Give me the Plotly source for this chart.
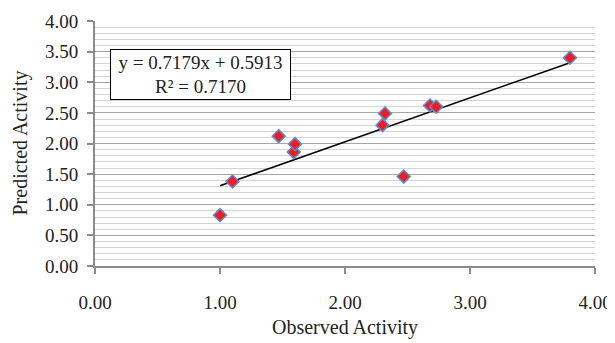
import plotly.graph_objects as go

observed = [1.00, 1.10, 1.47, 1.59, 1.60, 2.30, 2.32, 2.47, 2.68, 2.73, 3.80]
predicted = [0.83, 1.38, 2.12, 1.86, 1.99, 2.30, 2.49, 1.46, 2.62, 2.60, 3.40]
slope = 0.7179
intercept = 0.5913
r_squared = 0.7170
tick_vals = [0, 0.5, 1, 1.5, 2, 2.5, 3, 3.5, 4]
x_ticks = [0, 1, 2, 3, 4]

x_lo, x_hi = min(observed), max(observed)
trend_x = [x_lo, x_hi]
trend_y = [slope * v + intercept for v in trend_x]

FONT = "Liberation Serif"
TXT = "#222"
PAGE_OFFSET = 8  # default body margin of the html page

fig = go.Figure()
fig.add_trace(go.Scatter(
    x=trend_x, y=trend_y, mode="lines",
    line=dict(color="black", width=1.5), showlegend=False, hoverinfo="skip"))
fig.add_trace(go.Scatter(
    x=observed, y=predicted, mode="markers",
    marker=dict(symbol="diamond", size=10, color="#ee1c25",
                line=dict(color="#5b8fd0", width=1.5)),
    showlegend=False))

fig.add_annotation(
    x=0.84, y=3.12, xref="x", yref="y",
    text=f"y = {slope:.4f}x + {intercept:.4f}<br>R² = {r_squared:.4f}",
    showarrow=False, align="center",
    font=dict(family=FONT, size=19, color=TXT),
    bgcolor="white", bordercolor="black", borderwidth=1, borderpad=0,
    width=179, height=49)

# axis titles
fig.add_annotation(
    x=0.5, y=0, xref="paper", yref="paper", xanchor="center", yanchor="middle",
    yshift=-61, text="Observed Activity", showarrow=False,
    font=dict(family=FONT, size=20, color=TXT))
fig.add_annotation(
    x=0, y=0.5, xref="paper", yref="paper", xanchor="center", yanchor="middle",
    xshift=-75, textangle=-90, text="Predicted Activity", showarrow=False,
    font=dict(family=FONT, size=20, color=TXT))

fig.update_layout(
    width=615 - PAGE_OFFSET, height=343 - PAGE_OFFSET,
    margin=dict(l=95 - PAGE_OFFSET, r=20, t=21 - PAGE_OFFSET, b=77, autoexpand=False),
    plot_bgcolor="white", paper_bgcolor="white",
    font=dict(family=FONT, size=19, color=TXT),
)
fig.update_xaxes(
    range=[0, 4], tickvals=x_ticks, tickformat=".2f", automargin=False,
    showgrid=False, zeroline=False,
    showline=True, linecolor="#8c8c8c", linewidth=2,
    ticks="outside", ticklen=6, tickcolor="#8c8c8c", tickwidth=1.5,
    ticklabelstandoff=12,
)
fig.update_yaxes(
    range=[0, 4], tickvals=tick_vals, tickformat=".2f", automargin=False,
    showgrid=True, gridcolor="#a6a6a6", gridwidth=1.2,
    minor=dict(dtick=0.1, showgrid=True, gridcolor="#d4d4d4", gridwidth=1),
    zeroline=False,
    showline=True, linecolor="#8c8c8c", linewidth=2,
    ticks="outside", ticklen=6, tickcolor="#8c8c8c", tickwidth=1.5,
    ticklabelstandoff=5,
)

fig.write_html("out.html")
